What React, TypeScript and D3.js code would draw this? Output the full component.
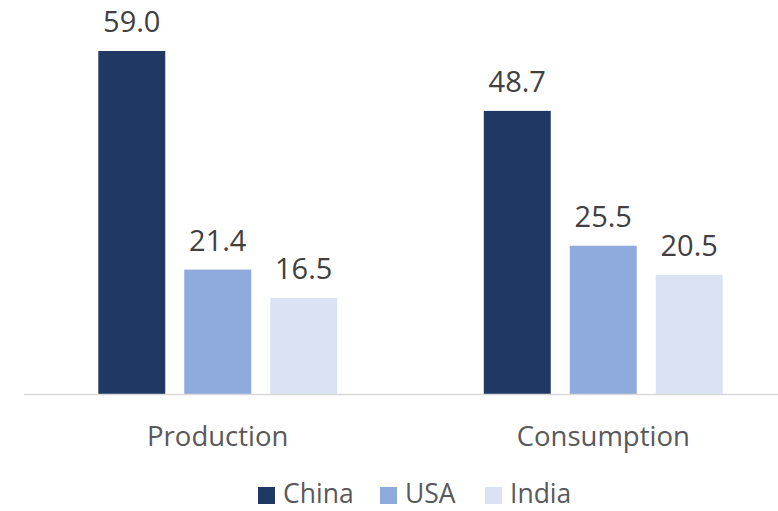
import React from 'react';
import * as d3 from 'd3';

const categories = ['Production', 'Consumption'];
const seriesNames = ['China', 'USA', 'India'];
const seriesColors = ['#203864', '#8faadc', '#dae3f3'];
const china = [59.0, 48.7];
const usa = [21.4, 25.5];
const india = [16.5, 20.5];
const seriesValues = [china, usa, india];

const width = 778;
const height = 511;
const baseline = 394;
const font = '"Open Sans", "Liberation Sans", sans-serif';

const App: React.FC = () => {
  // Outer band for categories, inner band for series
  const x0 = d3.scaleBand<string>()
    .domain(categories)
    .range([25, 796])
    .paddingInner(0.331)
    .paddingOuter(0.1655);

  const x1 = d3.scaleBand<string>()
    .domain(seriesNames)
    .range([0, x0.bandwidth()])
    .paddingInner(0.221)
    .paddingOuter(0.1105);

  const y = d3.scaleLinear().domain([0, 59]).range([baseline, 51]);

  // Legend layout
  const legendX = [258, 380, 485];

  return (
    <svg width={width} height={height} style={{ position: 'absolute', left: 0, top: 0 }}>
      <rect width={width} height={height} fill="#fff" />
      {categories.map((cat, ci) => (
        <g key={cat} transform={`translate(${x0(cat)},0)`}>
          {seriesNames.map((s, si) => {
            const v = seriesValues[si][ci];
            const bx = x1(s) as number;
            return (
              <g key={s}>
                <rect
                  x={bx}
                  y={y(v)}
                  width={x1.bandwidth()}
                  height={baseline - y(v)}
                  fill={seriesColors[si]}
                />
                <text
                  x={bx + x1.bandwidth() / 2}
                  y={y(v) - 19}
                  textAnchor="middle"
                  fontFamily={font}
                  fontSize={29}
                  fill="#404040"
                >
                  {v.toFixed(1)}
                </text>
              </g>
            );
          })}
          <text
            x={x0.bandwidth() / 2}
            y={446}
            textAnchor="middle"
            fontFamily={font}
            fontSize={27.5}
            fill="#595959"
          >
            {cat}
          </text>
        </g>
      ))}
      <line x1={24} x2={width} y1={baseline + 0.5} y2={baseline + 0.5} stroke="#d9d9d9" strokeWidth={1.5} />
      {seriesNames.map((s, si) => (
        <g key={s} transform={`translate(${legendX[si]},0)`}>
          <rect x={0} y={487} width={17} height={17} fill={seriesColors[si]} />
          <text x={25} y={503} fontFamily={font} fontSize={26.5} fill="#595959">
            {s}
          </text>
        </g>
      ))}
    </svg>
  );
};

export default App;
